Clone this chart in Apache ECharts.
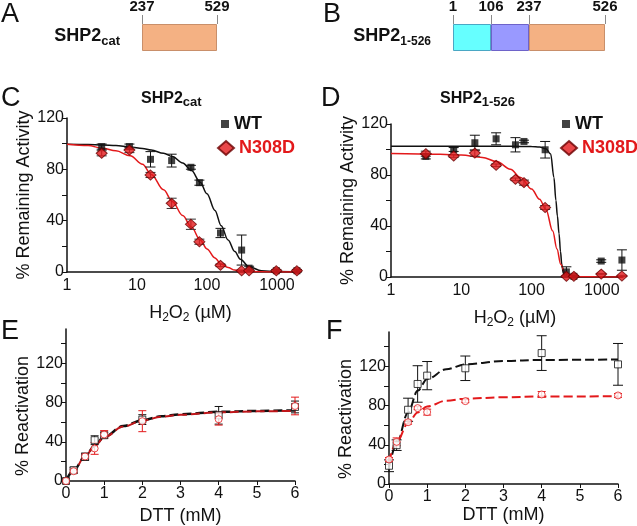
<!DOCTYPE html>
<html>
<head>
<meta charset="utf-8">
<script src="https://cdn.jsdelivr.net/npm/echarts@6/dist/echarts.min.js"></script>
<style>
  html, body { margin: 0; padding: 0; background: #fff; }
  #main { width: 637px; height: 526px; }
</style>
</head>
<body>
<div id="main"></div>
<script>
// ---- A / B : domain maps (schematic widths, residue numbers as labels)
const catDomainLabels = ['237', '529'];
const catDomainSpans = [2];
const fullDomainLabels = ['1', '106', '237', '526'];
const fullDomainSpans = [1, 1, 2];

// ---- C / D : H2O2 titration (uM)
const h2o2Doses = [3.13, 7.8, 15.6, 31.3, 59, 78, 156, 313, 400, 980, 1930];
const cWt = [97.7, 97.7, 87.8, 86.8, 81.6, 69.6, 30.4, 17.1, 3, 1, 1];
const cWtErr = [2, 2, 6, 5, 1.5, 2, 3.6, 11.7, 1.5, 1, 1];
const cMut = [92.5, 95, 75.6, 53.5, 37.2, 23.6, 5.2, 1, 1, 1, 1];
const cMutErr = [2, 2, 2, 4, 4, 2, 1, 0.5, 0.5, 0.5, 0.5];
const cFitX = [1, 2, 3.2, 5, 8, 12, 16, 24, 32, 45, 60, 80, 100, 130, 160, 200, 250, 300, 400, 600, 1000, 2000];
const cWtFit = [99.5, 99.3, 99, 98.5, 97.5, 96.3, 95, 92.5, 90, 85, 79, 70, 61, 48, 36, 25, 16, 10, 4, 1, 0.3, 0];
const cMutFit = [99.5, 98.5, 96.5, 94.5, 90.5, 84, 76, 64, 55, 44, 35, 25, 18, 11, 6, 3.5, 1.5, 0.8, 0.3, 0.1, 0, 0];

const dWt = [94.6, 100, 105.3, 108.4, 103.7, 106.3, 99.8, 4, 0.5, 12.5, 13.3];
const dWtErr = [2, 1.5, 5.9, 4.7, 5.6, 1, 6.5, 4, 0.5, 1, 8];
const dMut = [96.7, 94.9, 97.2, 87.6, 76.6, 74, 54.5, 0.5, 0.5, 2.3, 0.8];
const dMutErr = [2, 1, 2.5, 1, 1, 2, 1.5, 0.5, 0.5, 0.5, 0.5];
const dWtFitX = [1, 10, 50, 100, 130, 160, 187, 208, 222, 233, 246, 258, 269, 283, 300, 330, 400, 1000, 2000];
const dWtFit = [102.5, 102.5, 102.5, 102.4, 102, 100.5, 96.5, 78, 60, 48, 34, 20, 10, 3, 0.8, 0.2, 0, 0, 0];
const dMutFitX = [1, 5, 10, 20, 32, 50, 70, 100, 130, 160, 200, 230, 260, 300, 350, 500, 1000, 2000];
const dMutFit = [96.8, 96.2, 95.6, 93.8, 90.5, 84.5, 78, 69, 61, 53, 36, 22, 10, 3.5, 1, 0.2, 0, 0];

// ---- E / F : DTT reactivation (mM)
const dttDoses = [0, 0.2, 0.5, 0.75, 1, 2, 4, 6];
const eWt = [0, 11, 24.7, 41.6, 46.7, 62.6, 67, 75.5];
const eWtErr = [0, 3, 3.7, 4.5, 3, 5, 9, 6];
const eMut = [0, 10, 25, 33.2, 47.4, 61, 63, 76.5];
const eMutErr = [0, 2, 3, 6, 4, 10.7, 6, 9];
const eFitX = [0, 0.2, 0.5, 0.75, 1, 1.5, 2, 2.5, 3, 4, 5, 6];
const eWtFit = [0, 11, 25, 36, 45, 56, 62, 66, 68, 70.5, 71.5, 72];
const eMutFit = [0, 10.5, 25, 35.5, 44.5, 55.5, 61.5, 65.5, 67.5, 70, 71, 71.5];

const fWt = [18.6, 39.6, 75.7, 102, 110.5, 118, 133.5, 122];
const fWtErr = [6, 5.4, 11.8, 18.6, 14.4, 12.5, 17.7, 21.3];
const fMut = [25, 43, 63, 77.4, 73.3, 84.5, 91.3, 90.3];
const fMutErr = [2, 4, 2, 1.5, 3, 1.5, 3, 2];
const fFitX = [0, 0.2, 0.5, 0.75, 1, 1.5, 2, 3, 4, 6];
const fWtFit = [17, 41, 73, 95, 107, 117, 122, 125.5, 126.5, 127];
const fMutFit = [22.5, 43, 62, 73, 79, 85, 87, 88.5, 89.2, 89.5];

const FONT = '"Liberation Sans", Arial, sans-serif';
const BLACK = '#111';
const RED = '#e3191b';
const domainColors = ['#66ffff', '#9999ff', '#f4b183'];
const domainBorders = ['#4aa7c4', '#6e63c9', '#c98f6a'];

const chart = echarts.init(document.getElementById('main'));

function pairs(xs, ys) { return xs.map((x, i) => [x, ys[i]]); }
function ranges(xs, ys, es) { return xs.map((x, i) => [x, ys[i] - es[i], ys[i] + es[i]]); }
function cumulative(spans) {
  const out = [0];
  spans.forEach(s => out.push(out[out.length - 1] + s));
  return out;
}

function subRich(size, subSize, bold) {
  const w = bold ? 'bold' : 'normal';
  return {
    t: { fontSize: size, fontFamily: FONT, fontWeight: w, color: BLACK, verticalAlign: 'top', lineHeight: size + 2 },
    s: { fontSize: subSize, fontFamily: FONT, fontWeight: w, color: BLACK, verticalAlign: 'bottom',
         lineHeight: subSize + 2, padding: [Math.round(size * 0.5), 0, 0, 0] }
  };
}

// ---- grids
const grids = [
  { left: 142, top: 24, width: 75, height: 27 },
  { left: 453, top: 24, width: 152, height: 27 },
  { left: 67, top: 118, width: 231, height: 154 },
  { left: 391, top: 124, width: 232, height: 153 },
  { left: 66, top: 329, width: 229, height: 152 },
  { left: 389, top: 332, width: 229, height: 152 }
].map(g => Object.assign({ containLabel: false, outerBoundsMode: 'none' }, g));

function domainXAxis(idx, spans, labels) {
  const bounds = cumulative(spans);
  return {
    type: 'value', gridIndex: idx, position: 'top', min: 0, max: bounds[bounds.length - 1],
    axisLine: { show: false },
    splitLine: { show: false },
    axisTick: { show: true, customValues: bounds, length: 9, lineStyle: { color: '#8a8a8a', width: 1 } },
    axisLabel: {
      customValues: bounds, margin: 10, fontSize: 15, fontWeight: 'bold', fontFamily: FONT, color: BLACK,
      formatter: v => labels[bounds.indexOf(v)]
    }
  };
}
function domainYAxis(idx, label, subSize) {
  return {
    type: 'category', gridIndex: idx, data: [label],
    axisLine: { show: false }, axisTick: { show: false },
    axisLabel: { margin: 22, rich: subRich(18, subSize, true) }
  };
}

const h2o2Name = '{t|H}{s|2}{t|O}{s|2}{t| (µM)}';
function logXAxis(idx, shift) {
  return {
    type: 'log', gridIndex: idx, logBase: 10, min: 1, max: 2000,
    axisLine: { show: true, onZero: false, lineStyle: { color: BLACK, width: 1.5 } },
    axisTick: { show: false }, splitLine: { show: false }, minorTick: { show: false },
    axisLabel: { customValues: [1, 10, 100, 1000], formatter: v => String(v),
      margin: 6, fontSize: 16, fontFamily: FONT, color: BLACK },
    name: h2o2Name, nameLocation: 'middle', nameGap: 32,
    nameTextStyle: { padding: [0, 0, 0, shift], rich: subRich(18, 12, false) }
  };
}
function dttXAxis(idx, gap) {
  return {
    type: 'value', gridIndex: idx, min: 0, max: 6, interval: 1,
    axisLine: { show: true, onZero: false, lineStyle: { color: BLACK, width: 1.5 } },
    axisTick: { show: true, length: 4, lineStyle: { color: BLACK } }, splitLine: { show: false },
    axisLabel: { margin: 5, fontSize: 16, fontFamily: FONT, color: BLACK },
    name: 'DTT (mM)', nameLocation: 'middle', nameGap: gap,
    nameTextStyle: { fontSize: 18, fontFamily: FONT, color: BLACK }
  };
}
function valueYAxis(idx, max, ticks, labels, name, gap, shift) {
  return {
    type: 'value', gridIndex: idx, min: 0, max: max,
    axisLine: { show: true, onZero: false, lineStyle: { color: BLACK, width: 1.5 } },
    axisTick: { show: true, customValues: ticks, length: 5, lineStyle: { color: BLACK } },
    splitLine: { show: false },
    axisLabel: { customValues: labels, margin: 3, fontSize: 16, fontFamily: FONT, color: BLACK },
    name: name, nameLocation: 'middle', nameGap: gap,
    nameTextStyle: { fontSize: 18, fontFamily: FONT, color: BLACK, padding: [0, shift, 0, 0] }
  };
}

const remTicks = [0, 20, 40, 60, 80, 100, 120];
const remLabels = [0, 40, 80, 120];
const reactTicks = [0, 20, 40, 60, 80, 100, 120, 140];

function fitSeries(idx, data, color, width, dash, offset) {
  return {
    type: 'line', xAxisIndex: idx, yAxisIndex: idx, data: data, smooth: 0.35, smoothMonotone: 'x',
    symbol: 'none', silent: true, z: 2,
    lineStyle: { color: color, width: width, type: dash || 'solid', dashOffset: offset || 0 }
  };
}
function errorSeries(idx, data, color, cap) {
  return {
    type: 'custom', xAxisIndex: idx, yAxisIndex: idx, data: data, silent: true, z: 3,
    encode: { x: 0, y: [1, 2] },
    renderItem: function (params, api) {
      const x = api.value(0);
      const lo = api.coord([x, api.value(1)]);
      const hi = api.coord([x, api.value(2)]);
      const style = { stroke: color, lineWidth: 1 };
      return {
        type: 'group', children: [
          { type: 'line', shape: { x1: hi[0], y1: hi[1], x2: lo[0], y2: lo[1] }, style: style },
          { type: 'line', shape: { x1: hi[0] - cap, y1: hi[1], x2: hi[0] + cap, y2: hi[1] }, style: style },
          { type: 'line', shape: { x1: lo[0] - cap, y1: lo[1], x2: lo[0] + cap, y2: lo[1] }, style: style }
        ]
      };
    }
  };
}
function wtPoints(idx, data) {
  return { type: 'scatter', name: 'WT', xAxisIndex: idx, yAxisIndex: idx, data: data,
    symbol: 'rect', symbolSize: 7, itemStyle: { color: BLACK }, z: 5 };
}
function mutPoints(idx, data) {
  return { type: 'scatter', name: 'N308D', xAxisIndex: idx, yAxisIndex: idx, data: data,
    symbol: 'diamond', symbolSize: [11, 10], itemStyle: { color: RED, borderColor: '#6b0000', borderWidth: 1 }, z: 5 };
}
function openPoints(idx, data, symbol, color) {
  return { type: 'scatter', xAxisIndex: idx, yAxisIndex: idx, data: data, silent: true,
    symbol: symbol, symbolSize: 7, itemStyle: { color: '#fff', borderColor: color, borderWidth: 1 }, z: 5 };
}

const domainSeries = [];
catDomainSpans.forEach((v, i) => domainSeries.push({
  type: 'bar', xAxisIndex: 0, yAxisIndex: 0, stack: 'cat', data: [v], barWidth: 27, silent: true,
  itemStyle: { color: domainColors[2], borderColor: domainBorders[2], borderWidth: 1 }
}));
fullDomainSpans.forEach((v, i) => domainSeries.push({
  type: 'bar', xAxisIndex: 1, yAxisIndex: 1, stack: 'full', data: [v], barWidth: 27, silent: true,
  itemStyle: { color: domainColors[i], borderColor: domainBorders[i], borderWidth: 1 }
}));

function letter(text, left, top) {
  return { text: text, left: left, top: top, padding: 0,
    textStyle: { fontSize: 27, fontWeight: 'normal', fontFamily: FONT, color: BLACK } };
}
function panelTitle(sub, left, top) {
  return { text: '{t|SHP2}{s|' + sub + '}', left: left, top: top, padding: 0,
    textStyle: { rich: subRich(16, 13, true) } };
}
function legendItem(name, icon, w, h, left, top, color) {
  return {
    left: left, top: top, padding: 0, itemGap: 0, selectedMode: false, itemWidth: w, itemHeight: h,
    data: [{ name: name, icon: icon }],
    textStyle: { fontSize: 18, fontWeight: 'bold', fontFamily: FONT, color: color }
  };
}

chart.setOption({
  animation: false,
  backgroundColor: '#fff',
  title: [
    letter('A', 1, 1), letter('B', 323, 1), letter('C', 1, 85), letter('D', 321, 85),
    letter('E', 1, 318), letter('F', 326, 318),
    panelTitle('cat', 141, 91), panelTitle('1-526', 440, 91)
  ],
  legend: [
    legendItem('WT', 'rect', 8, 8, 221, 115, BLACK),
    legendItem('N308D', 'diamond', 16, 14, 217, 139, RED),
    legendItem('WT', 'rect', 8, 8, 562, 115, BLACK),
    legendItem('N308D', 'diamond', 16, 14, 560, 139, RED)
  ],
  grid: grids,
  xAxis: [
    domainXAxis(0, catDomainSpans, catDomainLabels),
    domainXAxis(1, fullDomainSpans, fullDomainLabels),
    logXAxis(2, 16),
    logXAxis(3, 16),
    dttXAxis(4, 26),
    dttXAxis(5, 19)
  ],
  yAxis: [
    domainYAxis(0, '{t|SHP2}{s|cat}', 13),
    domainYAxis(1, '{t|SHP2}{s|1-526}', 12),
    valueYAxis(2, 120, remTicks, remLabels, '% Remaining Activity', 32, 0),
    valueYAxis(3, 120, remTicks, remLabels, '% Remaining Activity', 33, 0),
    valueYAxis(4, 155, reactTicks, remLabels, '% Reactivation', 29, 22),
    valueYAxis(5, 155, reactTicks, remLabels, '% Reactivation', 31, 22)
  ],
  series: domainSeries.concat([
    fitSeries(2, pairs(cFitX, cWtFit), BLACK, 1.5),
    fitSeries(2, pairs(cFitX, cMutFit), RED, 1.5),
    errorSeries(2, ranges(h2o2Doses, cWt, cWtErr), BLACK, 5),
    errorSeries(2, ranges(h2o2Doses, cMut, cMutErr), '#333', 5),
    wtPoints(2, pairs(h2o2Doses, cWt)),
    mutPoints(2, pairs(h2o2Doses, cMut)),

    fitSeries(3, pairs(dWtFitX, dWtFit), BLACK, 1.5),
    fitSeries(3, pairs(dMutFitX, dMutFit), RED, 1.5),
    errorSeries(3, ranges(h2o2Doses, dWt, dWtErr), BLACK, 5),
    errorSeries(3, ranges(h2o2Doses, dMut, dMutErr), '#333', 5),
    wtPoints(3, pairs(h2o2Doses, dWt)),
    mutPoints(3, pairs(h2o2Doses, dMut)),

    fitSeries(4, pairs(eFitX, eWtFit), BLACK, 2.5, [9, 4]),
    fitSeries(4, pairs(eFitX, eMutFit), '#c0161a', 2, [9, 4], 5),
    errorSeries(4, ranges(dttDoses, eWt, eWtErr), BLACK, 4),
    errorSeries(4, ranges(dttDoses, eMut, eMutErr), RED, 4),
    openPoints(4, pairs(dttDoses, eWt), 'rect', BLACK),
    openPoints(4, pairs(dttDoses, eMut), 'circle', RED),

    fitSeries(5, pairs(fFitX, fWtFit), BLACK, 2, [9, 4]),
    fitSeries(5, pairs(fFitX, fMutFit), RED, 2, [9, 4]),
    errorSeries(5, ranges(dttDoses, fWt, fWtErr), BLACK, 5),
    errorSeries(5, ranges(dttDoses, fMut, fMutErr), RED, 4),
    openPoints(5, pairs(dttDoses, fWt), 'rect', BLACK),
    openPoints(5, pairs(dttDoses, fMut), 'circle', RED)
  ])
});
</script>
</body>
</html>
